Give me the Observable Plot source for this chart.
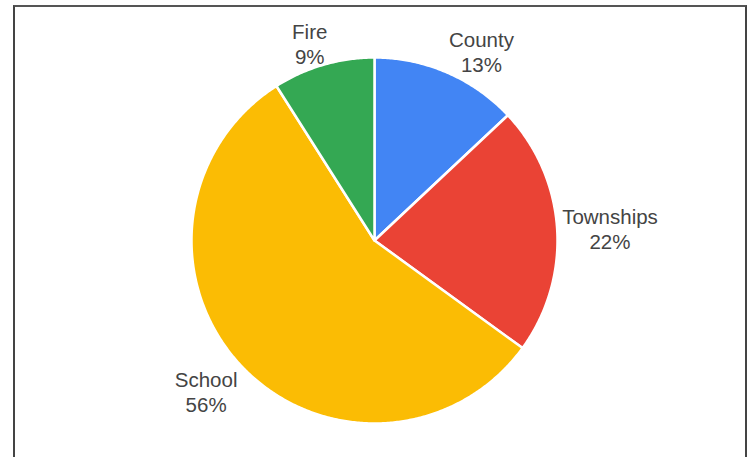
<!DOCTYPE html>
<html>
<head>
<meta charset="utf-8">
<script src="https://cdn.jsdelivr.net/npm/d3@7"></script>
<script src="https://cdn.jsdelivr.net/npm/@observablehq/plot@0.6"></script>
<style>
  html, body { margin: 0; padding: 0; background: #fff; }
  #wrap { position: relative; width: 749px; height: 457px; overflow: hidden; }
  #frame { position: absolute; left: 13px; top: 5px; width: 730px; height: 470px;
           border-top: 2px solid #555; border-left: 2px solid #444; border-right: 2px solid #444; }
  #chart { position: absolute; left: 0; top: 0; }
</style>
</head>
<body>
<div id="wrap"><div id="frame"></div><div id="chart"></div></div>
<script>
// ---- data ----
const categories = ["County", "Townships", "School", "Fire"];
const values = [13, 22, 56, 9];
const colors = ["#4285F4", "#EA4335", "#FBBC04", "#34A853"];

// ---- layout ----
const W = 749, H = 457, cx = 374, cy = 240, R = 183;
const fontSize = 20.5, lineH = 25, fontFamily = "Arial, 'Liberation Sans', sans-serif";

const total = d3.sum(values);
const slicePts = [];
const labels = [];
const ctx = document.createElement("canvas").getContext("2d");
ctx.font = `${fontSize}px ${fontFamily}`;
const clamp = v => Math.max(-1, Math.min(1, v));
let cum = 0;
categories.forEach((name, i) => {
  const v = values[i];
  const a0 = cum / total * 2 * Math.PI;
  const a1 = (cum + v) / total * 2 * Math.PI;
  cum += v;
  slicePts.push({name, x: 0, y: 0});
  const n = Math.max(2, Math.ceil((a1 - a0) / (Math.PI / 360)));
  for (let k = 0; k <= n; k++) {
    const a = a0 + (a1 - a0) * k / n;
    slicePts.push({name, x: Math.sin(a), y: Math.cos(a)});
  }
  slicePts.push({name, x: 0, y: 0});
  // label placement
  const am = (a0 + a1) / 2, s = Math.sin(am), c = Math.cos(am);
  const text = `${name}\n${v}%`;
  const w = d3.max(text.split("\n"), t => ctx.measureText(t).width);
  const h = 39;
  const rr = (R + 5) / R;
  labels.push({
    text,
    x: s * rr + clamp(s * 2.5) * w / 2 / R,
    y: c * rr + clamp(c * 2.5) * h / 2 / R
  });
});

const chart = Plot.plot({
  width: W, height: H, margin: 0,
  style: {fontFamily, background: "transparent", overflow: "visible"},
  x: {domain: [-cx / R, (W - cx) / R], axis: null},
  y: {domain: [-(H - cy) / R, cy / R], axis: null},
  color: {domain: categories, range: colors},
  marks: [
    Plot.line(slicePts, {x: "x", y: "y", z: "name", fill: "name", stroke: "white", strokeWidth: 2.5, curve: "linear"}),
    Plot.text(labels, {x: "x", y: "y", text: "text", fontSize, fill: "#444", textAnchor: "middle",
                       lineAnchor: "middle", lineHeight: lineH / fontSize, fontFamily, dy: 3})
  ]
});
document.getElementById("chart").appendChild(chart);
</script>
</body>
</html>
